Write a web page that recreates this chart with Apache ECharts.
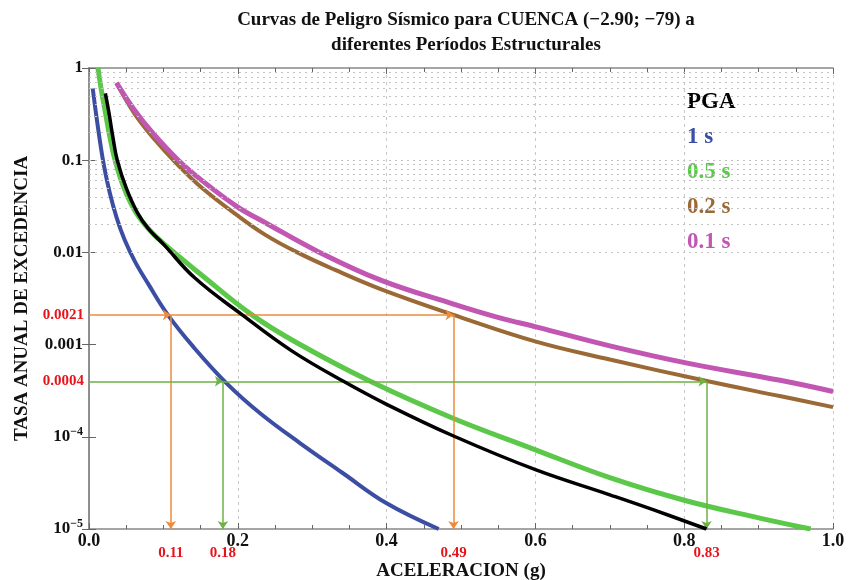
<!DOCTYPE html>
<html>
<head>
<meta charset="utf-8">
<script src="https://cdn.jsdelivr.net/npm/echarts@6/dist/echarts.min.js"></script>
<style>
  html, body { margin: 0; padding: 0; background: #fff; }
  #chart { width: 850px; height: 580px; }
</style>
</head>
<body>
<div id="chart"></div>
<script>
const SERIF = "'Liberation Serif', 'DejaVu Serif', serif";

// [aceleración (g), tasa anual de excedencia]
const pga = [[0.022, 0.53], [0.027, 0.32], [0.032, 0.18], [0.038, 0.1], [0.05, 0.05], [0.065, 0.027], [0.08, 0.018], [0.1, 0.0123], [0.142, 0.0053], [0.206, 0.0021], [0.273, 0.00085], [0.342, 0.0004], [0.4, 0.000225], [0.49, 0.000102], [0.6, 4.4e-5], [0.7, 2.35e-5], [0.76, 1.6e-5], [0.83, 1e-5]];
const t1s = [[0.005, 0.6], [0.008, 0.39], [0.011, 0.26], [0.015, 0.155], [0.02, 0.088], [0.028, 0.044], [0.037, 0.024], [0.048, 0.0136], [0.062, 0.0079], [0.08, 0.0045], [0.106, 0.0021], [0.14, 0.00095], [0.185, 0.00038], [0.23, 0.00018], [0.284, 8.5e-5], [0.34, 4.1e-5], [0.4, 1.9e-5], [0.47, 1e-5]];
const t05s = [[0.012, 1], [0.017, 0.55], [0.022, 0.33], [0.028, 0.18], [0.035, 0.1], [0.047, 0.05], [0.062, 0.028], [0.08, 0.018], [0.1, 0.0125], [0.15, 0.0058], [0.219, 0.0021], [0.28, 0.00104], [0.378, 0.0004], [0.49, 0.000158], [0.593, 7.6e-5], [0.7, 3.6e-5], [0.8, 2.05e-5], [0.9, 1.32e-5], [0.97, 1e-5]];
const t02s = [[0.037, 0.69], [0.06, 0.33], [0.085, 0.18], [0.12, 0.088], [0.152, 0.05], [0.2, 0.025], [0.237, 0.0155], [0.28, 0.01], [0.33, 0.0065], [0.392, 0.004], [0.49, 0.0021], [0.602, 0.00107], [0.7, 0.00069], [0.832, 0.0004], [0.93, 0.000275], [1.0, 0.00021]];
const t01s = [[0.037, 0.69], [0.06, 0.36], [0.085, 0.2], [0.12, 0.1], [0.152, 0.06], [0.2, 0.031], [0.237, 0.021], [0.31, 0.01], [0.392, 0.005], [0.49, 0.00275], [0.552, 0.00195], [0.602, 0.00155], [0.7, 0.00097], [0.804, 0.00063], [0.929, 0.00041], [1.0, 0.00031]];

const seriesNames = ["PGA", "1 s", "0.5 s", "0.2 s", "0.1 s"];
const seriesColors = ["#000000", "#3b4ea3", "#5cc84a", "#9a6936", "#c256b3"];
const seriesWidths = [3.5, 4, 5, 4, 5];
const seriesData = [pga, t1s, t05s, t02s, t01s];

// lineas de referencia: tasa -> aceleraciones leidas
const refRates = [0.0021, 0.0004];
const refAccel = [[0.11, 0.49], [0.18, 0.83]];
const refColors = ["#f08a3a", "#6db244"];

const yMin = 1e-5;
const yMax = 1;
const minorGrid = [];
for (let e = -5; e < 0; e++) {
  for (let m = 2; m <= 9; m++) minorGrid.push(+(m * Math.pow(10, e)).toPrecision(3));
}
const majorGrid = [1e-4, 1e-3, 1e-2, 1e-1];

const chart = echarts.init(document.getElementById("chart"));

function yLabel(v) {
  const e = Math.round(Math.log10(v));
  if (e >= -3) return ["1", "0.1", "0.01", "0.001"][-e];
  return "10{sup|\u2212" + -e + "}";
}

const redLabel = { show: true, color: "#e8141c", fontWeight: "bold", fontSize: 15, fontFamily: SERIF };
const refLines = [];
refRates.forEach((rate, i) => {
  const color = refColors[i];
  const [a, b] = refAccel[i];
  const style = { color, width: 1.5, type: "solid" };
  refLines.push([
    { coord: [0, rate], lineStyle: style, label: { ...redLabel, position: "start", formatter: String(rate), distance: 5 } },
    { coord: [a, rate] },
  ]);
  refLines.push([{ coord: [a, rate], lineStyle: style }, { coord: [b, rate] }]);
  [a, b].forEach((acc) => {
    refLines.push([
      { coord: [acc, rate], lineStyle: style, label: { ...redLabel, position: "end", formatter: String(acc), distance: 17 } },
      { coord: [acc, yMin] },
    ]);
  });
});

const gridStyle = { color: "#c2c2c2", width: 1, type: [2, 4] };

const series = seriesData.map((data, i) => ({
  name: seriesNames[i],
  type: "line",
  data,
  smooth: 0.4,
  showSymbol: false,
  z: 3 + (i === 0 ? 2 : 0),
  lineStyle: { color: seriesColors[i], width: seriesWidths[i] },
  itemStyle: { color: seriesColors[i] },
}));

series.push({
  name: "grid",
  type: "line",
  data: [[0.5, yMin]],
  showSymbol: false,
  lineStyle: { opacity: 0 },
  silent: true,
  z: 1,
  markLine: {
    silent: true,
    symbol: "none",
    label: { show: false },
    lineStyle: gridStyle,
    data: minorGrid.concat(majorGrid).map((v) => ({ yAxis: v })),
  },
});

series.push({
  name: "ref",
  type: "line",
  data: [[0.5, yMin]],
  showSymbol: false,
  lineStyle: { opacity: 0 },
  silent: true,
  z: 4,
  markLine: {
    silent: true,
    symbol: ["none", "arrow"],
    symbolSize: 8,
    label: { show: false },
    data: refLines,
  },
});

const frame = { show: true, lineStyle: { color: "#888", width: 1.5 } };

chart.setOption({
  backgroundColor: "#fff",
  animation: false,
  title: {
    text: "Curvas de Peligro Sísmico para CUENCA (\u22122.90; \u221279) a\ndiferentes Períodos Estructurales",
    left: 461,
    top: 3,
    textAlign: "center",
    textStyle: { fontFamily: SERIF, fontSize: 19, fontWeight: "bold", color: "#111", lineHeight: 25 },
  },
  legend: {
    data: seriesNames.map((n, i) => ({ name: n, textStyle: { color: seriesColors[i] } })),
    orient: "vertical",
    left: 677,
    top: 86,
    icon: "none",
    itemWidth: 0,
    itemHeight: 23,
    itemGap: 12,
    selectedMode: false,
    textStyle: { fontFamily: SERIF, fontSize: 23, fontWeight: "bold" },
  },
  grid: { left: 89, right: 17, top: 68, bottom: 51, outerBoundsMode: "none" },
  xAxis: [
    {
      type: "value",
      min: 0,
      max: 1,
      interval: 0.2,
      name: "ACELERACION (g)",
      nameLocation: "middle",
      nameGap: 33,
      nameTextStyle: { fontFamily: SERIF, fontSize: 19, fontWeight: "bold", color: "#111" },
      axisLine: frame,
      axisTick: { inside: true, length: 6, lineStyle: { color: "#666" } },
      minorTick: { show: true, splitNumber: 4, length: 4, lineStyle: { color: "#666" } },
      axisLabel: { formatter: (v) => v.toFixed(1), fontFamily: SERIF, fontSize: 18, fontWeight: "bold", color: "#111", margin: 3 },
      splitLine: { show: true, lineStyle: { color: "#c8c8c8", type: [3, 4] } },
    },
    {
      type: "value",
      position: "top",
      min: 0,
      max: 1,
      interval: 0.2,
      axisLine: frame,
      axisTick: { inside: true, length: 6, lineStyle: { color: "#666" } },
      minorTick: { show: true, splitNumber: 4, length: 4, lineStyle: { color: "#666" } },
      axisLabel: { show: false },
      splitLine: { show: false },
    },
  ],
  yAxis: [
    {
      type: "log",
      logBase: 10,
      min: yMin,
      max: yMax,
      interval: 1,
      name: "TASA ANUAL DE EXCEDENCIA",
      nameLocation: "middle",
      nameGap: 57,
      nameTextStyle: { fontFamily: SERIF, fontSize: 19, fontWeight: "bold", color: "#111" },
      axisLine: frame,
      axisTick: { inside: true, length: 7, lineStyle: { color: "#666" } },
      axisLabel: {
        formatter: yLabel,
        fontFamily: SERIF,
        fontSize: 17,
        fontWeight: "bold",
        color: "#111",
        margin: 6,
        rich: { sup: { fontFamily: SERIF, fontSize: 12, fontWeight: "bold", color: "#111", verticalAlign: "top", padding: [0, 0, 10, 0] } },
      },
      splitLine: { show: false },
    },
    {
      type: "log",
      logBase: 10,
      min: yMin,
      max: yMax,
      interval: 1,
      position: "right",
      axisLine: frame,
      axisTick: { inside: true, length: 7, lineStyle: { color: "#666" } },
      axisLabel: { show: false },
      splitLine: { show: false },
    },
  ],
  series,
});
</script>
</body>
</html>
